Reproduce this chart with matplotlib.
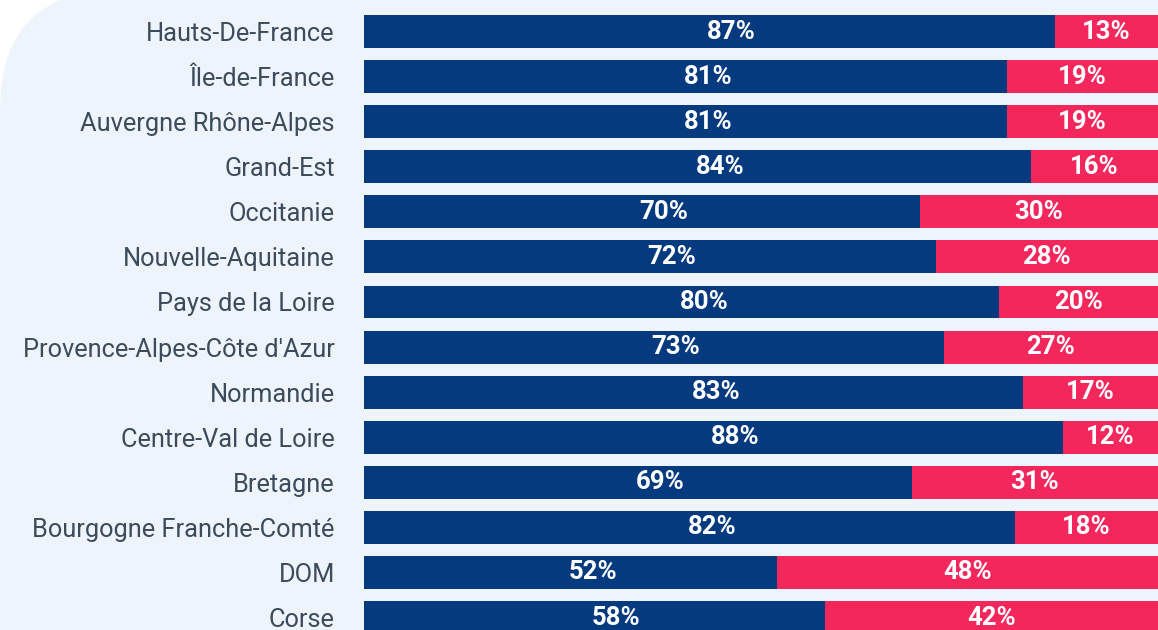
import matplotlib
matplotlib.use("Agg")
import matplotlib.pyplot as plt
from matplotlib.patches import FancyBboxPatch
from matplotlib.transforms import IdentityTransform

regions = ["Hauts-De-France", "Île-de-France", "Auvergne Rhône-Alpes", "Grand-Est",
           "Occitanie", "Nouvelle-Aquitaine", "Pays de la Loire",
           "Provence-Alpes-Côte d'Azur", "Normandie", "Centre-Val de Loire",
           "Bretagne", "Bourgogne Franche-Comté", "DOM", "Corse"]
oui = [87, 81, 81, 84, 70, 72, 80, 73, 83, 88, 69, 82, 52, 58]
non = [13, 19, 19, 16, 30, 28, 20, 27, 17, 12, 31, 18, 48, 42]

navy = "#063a7f"
pink = "#f4275d"
bg = "#edf4fb"

fig = plt.figure(figsize=(11.58, 6.3), dpi=100)
fig.patch.set_facecolor("white")

# light panel with rounded top-left corner (pixel coords)
panel = FancyBboxPatch((0, -300), 1500, 940, boxstyle="round,pad=0,rounding_size=120",
                       transform=IdentityTransform(), facecolor=bg, edgecolor="none", zorder=-5)
fig.patches.append(panel)

ax = fig.add_axes([364 / 1158, 0, 1 - 364 / 1158, 1])
ax.set_facecolor("none")
ax.set_zorder(1)

y = list(range(len(regions)))
ax.barh(y, oui, height=0.73, color=navy)
ax.barh(y, non, left=oui, height=0.73, color=pink)

for i in y:
    ax.annotate(f"{oui[i]}%", (oui[i] / 2, i), xytext=(16, 0), textcoords="offset points",
                ha="center", va="center", color="white", fontsize=18.5,
                fontweight="bold", family="Roboto")
    ax.annotate(f"{non[i]}%", (oui[i] + non[i] / 2, i), ha="center", va="center",
                color="white", fontsize=18.5, fontweight="bold", family="Roboto")

ax.set_xlim(0, 100)
ax.set_ylim(13.277, -0.699)
ax.set_yticks(y)
ax.set_yticklabels(regions, fontsize=18.3, color="#3c4a5c", family="Roboto")
ax.tick_params(axis="y", length=0, pad=21)
ax.set_xticks([])
for s in ax.spines.values():
    s.set_visible(False)

fig.savefig("out.png", dpi=100)
